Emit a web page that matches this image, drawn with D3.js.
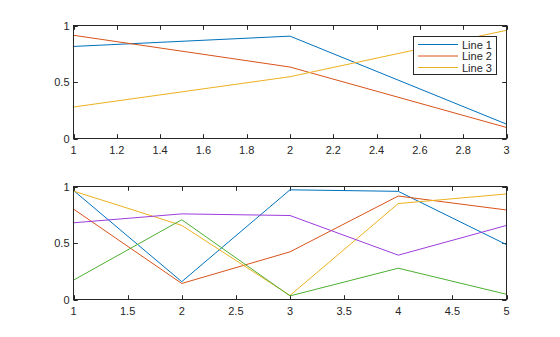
<!DOCTYPE html>
<html>
<head>
<meta charset="utf-8">
<script src="https://cdn.jsdelivr.net/npm/d3@7"></script>
<style>
  body { margin: 0; background: #fff; }
  svg { display: block; }
  text { font-family: "Liberation Sans", Arial, sans-serif; font-size: 11px; fill: #262626; }
</style>
</head>
<body>
<svg width="560" height="337"></svg>
<script>
// top subplot: 3 lines over x = 1..3
var xTop = [1, 2, 3]
var line1 = [0.8147, 0.9058, 0.1270]
var line2 = [0.9134, 0.6324, 0.0975]
var line3 = [0.2785, 0.5469, 0.9575]
var topNames = ["Line 1", "Line 2", "Line 3"]
var topTicksX = [1, 1.2, 1.4, 1.6, 1.8, 2, 2.2, 2.4, 2.6, 2.8, 3]

// bottom subplot: 5 lines over x = 1..5
var xBot = [1, 2, 3, 4, 5]
var bot1 = [0.9649, 0.1576, 0.9706, 0.9572, 0.4854]
var bot2 = [0.8003, 0.1419, 0.4218, 0.9157, 0.7922]
var bot3 = [0.9595, 0.6557, 0.0357, 0.8491, 0.9340]
var bot4 = [0.6787, 0.7577, 0.7431, 0.3922, 0.6555]
var bot5 = [0.1712, 0.7060, 0.0318, 0.2769, 0.0462]
var botTicksX = [1, 1.5, 2, 2.5, 3, 3.5, 4, 4.5, 5]

var ticksY = [0, 0.5, 1]
var colori = ["#0072BD", "#D95319", "#EDB120", "#9B3DDC", "#4DAF32"]

var svg = d3.select("svg")
var axisCol = "#262626"

/*
DISEGNA UN SUBPLOT
*/
function subplot(box, xs, serie, xTicks, xDom) {
	var x = d3.scaleLinear().domain(xDom).range([box.left, box.right])
	var y = d3.scaleLinear().domain([0, 1]).range([box.bottom, box.top])
	var g = svg.append("g")

	var tl = 4.3
	// ticks inward on all four sides
	xTicks.forEach(function(t) {
		var px = Math.round(x(t)) + 0.5
		g.append("line").attr("x1", px).attr("x2", px)
			.attr("y1", box.bottom).attr("y2", box.bottom - tl)
			.attr("stroke", axisCol)
		g.append("line").attr("x1", px).attr("x2", px)
			.attr("y1", box.top).attr("y2", box.top + tl)
			.attr("stroke", axisCol)
		g.append("text").attr("x", x(t)).attr("y", box.bottom + 15)
			.attr("text-anchor", "middle").text(d3.format("~g")(t))
	})
	ticksY.forEach(function(t) {
		var py = Math.round(y(t)) + 0.5
		g.append("line").attr("x1", box.left).attr("x2", box.left + tl)
			.attr("y1", py).attr("y2", py).attr("stroke", axisCol)
		g.append("line").attr("x1", box.right).attr("x2", box.right - tl)
			.attr("y1", py).attr("y2", py).attr("stroke", axisCol)
		g.append("text").attr("x", box.left - 4).attr("y", y(t) + 4)
			.attr("text-anchor", "end").text(d3.format("~g")(t))
	})

	var linea = d3.line()
		.x(function(d, i) { return x(xs[i]) })
		.y(function(d) { return y(d) })
	serie.forEach(function(s, i) {
		g.append("path").attr("d", linea(s))
			.attr("fill", "none").attr("stroke", colori[i]).attr("stroke-width", 1)
	})

	g.append("rect").attr("x", box.left).attr("y", box.top)
		.attr("width", box.right - box.left).attr("height", box.bottom - box.top)
		.attr("fill", "none").attr("stroke", axisCol).attr("stroke-width", 1)
	return { x: x, y: y }
}

subplot({ left: 73.5, right: 506.5, top: 25.5, bottom: 138.5 },
	xTop, [line1, line2, line3], topTicksX, [1, 3])

subplot({ left: 73.5, right: 506.5, top: 186.5, bottom: 299.5 },
	xBot, [bot1, bot2, bot3, bot4, bot5], botTicksX, [1, 5])

// legenda
var leg = svg.append("g")
leg.append("rect").attr("x", 413.5).attr("y", 36.5).attr("width", 83).attr("height", 38)
	.attr("fill", "#fff").attr("stroke", axisCol)
topNames.forEach(function(n, i) {
	var yy = 44.5 + i * 11.5
	leg.append("line").attr("x1", 418).attr("x2", 458).attr("y1", yy).attr("y2", yy)
		.attr("stroke", colori[i])
	leg.append("text").attr("x", 462).attr("y", yy + 4).text(n)
})
</script>
</body>
</html>
